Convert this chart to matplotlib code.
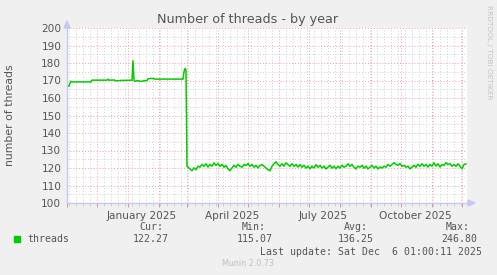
import numpy as np
import matplotlib.pyplot as plt
import matplotlib.dates as mdates
from matplotlib.patches import Rectangle, Polygon

W, H = 497, 275

# start of the 400 day window
start = np.datetime64('2024-11-01')
end = start + np.timedelta64(400, 'D')

# first months: (day offset, threads)
flat_days = [0, 2, 3, 4, 5, 24, 25, 40, 41, 42, 47, 49, 53, 65, 66, 67, 68,
             71, 73, 77, 80, 81, 85, 88, 116, 117, 118, 119, 120]
flat_vals = [167.2, 166.8, 168.5, 169.5, 169.2, 169.2, 170.2, 170.2, 170.7, 170.2,
             170.3, 169.8, 170.0, 170.2, 181.5, 170.0, 169.5, 170.0, 169.5, 169.8,
             170.0, 171.0, 171.2, 170.8, 170.8, 175.0, 177.0, 176.0, 121.0]

# after the drop, one reading every 2 days from day 121
noisy_vals = [
    120.5, 119.5, 118.5, 120.0, 119.0, 121.0, 120.5, 122.0, 121.0, 122.5,
    120.5, 122.0, 121.0, 123.0, 121.5, 122.5, 121.0, 122.0, 120.5, 121.5,
    119.5, 118.5, 120.0, 121.5, 120.5, 122.0, 121.0, 120.5, 122.0, 121.5,
    122.5, 121.0, 122.0, 120.5, 121.5, 120.0, 121.5, 122.0, 121.0, 120.0,
    119.0, 118.5, 121.0, 122.5, 123.5, 122.0, 121.0, 122.5, 121.0, 123.0,
    122.0, 121.0, 122.5, 121.0, 122.0, 120.5, 122.0, 120.5, 121.5, 120.0,
    121.0, 119.5, 121.0, 120.0, 122.0, 120.5, 121.5, 120.0, 121.0, 119.5,
    120.5, 121.5, 120.0, 121.0, 119.5, 121.0, 120.0, 121.5, 120.5, 121.0,
    122.5, 121.0, 122.0, 120.5, 119.5, 121.0, 120.5, 121.5, 120.0, 121.0,
    119.5, 120.5, 121.5, 120.0, 121.0, 119.5, 120.5, 120.0, 121.0, 120.5,
    122.0, 121.0, 122.0, 123.0, 122.0, 121.5, 122.5, 121.0, 121.5, 120.5,
    121.0, 119.5, 120.5, 121.5, 120.5, 122.0, 121.0, 122.5, 121.0, 122.0,
    120.5, 122.0, 121.0, 123.0, 121.0, 122.5, 120.5, 122.0, 121.5, 123.0,
    122.0, 122.5, 121.0, 122.0, 121.0, 122.5, 121.0, 119.5, 122.0, 122.3,
]
noisy_first_day = 121
noisy_step = 2

yticks = list(range(100, 201, 10))
month_labels = ['January 2025', 'April 2025', 'July 2025', 'October 2025']
label_dates = ['2025-01-15', '2025-04-15', '2025-07-15', '2025-10-15']

stat_names = ['Cur:', 'Min:', 'Avg:', 'Max:']
stat_vals = ['122.27', '115.07', '136.25', '246.80']

days = flat_days + [noisy_first_day + noisy_step * i for i in range(len(noisy_vals))]
vals = flat_vals + noisy_vals
dates = start + np.array(days).astype('timedelta64[D]')

fig = plt.figure(figsize=(W / 100, H / 100), dpi=100, facecolor='#f0f0f0')
ax = fig.add_axes([67 / W, 72 / H, 400 / W, 175 / H])
ax.set_facecolor('white')

ax.plot(dates.astype('datetime64[s]').astype(object), vals, color='#00cc00', lw=1.1,
        solid_joinstyle='miter')

ax.set_xlim(start.astype(object), end.astype(object))
ax.set_ylim(100, 200)

# grid
ax.xaxis.set_major_locator(mdates.MonthLocator())
ax.xaxis.set_minor_locator(mdates.WeekdayLocator(byweekday=mdates.SU))
ax.xaxis.set_major_formatter(plt.NullFormatter())
ax.set_yticks(yticks)
ax.set_yticks(list(range(105, 200, 10)), minor=True)
ax.grid(True, which='minor', color='#cfcfcf', ls=(0, (1, 2)), lw=0.7)
ax.grid(True, which='major', color='#eba0a0', ls=(0, (1, 2)), lw=0.7)
ax.set_axisbelow(True)

ax.tick_params(axis='y', which='both', length=0, labelsize=7.6, labelcolor='#555555', pad=4)
ax.tick_params(axis='x', which='major', length=3, width=0.7, color='#e88888', direction='out')
ax.tick_params(axis='x', which='minor', length=2, width=0.6, color='#c8c8c8', direction='out')

for s in ax.spines.values():
    s.set_visible(False)
axc = '#c4c8f4'
ax.plot([0, 0], [0, 1.0], transform=ax.transAxes, color=axc, lw=1, clip_on=False)
ax.plot([0, 1.005], [0, 0], transform=ax.transAxes, color=axc, lw=1, clip_on=False)
fig.patches.append(Polygon([[64 / W, 1 - 28 / H], [70 / W, 1 - 28 / H], [67 / W, 1 - 21 / H]],
                           closed=True, transform=fig.transFigure, color=axc))
fig.patches.append(Polygon([[468 / W, 1 - 200 / H], [468 / W, 1 - 206 / H], [475 / W, 1 - 203 / H]],
                           closed=True, transform=fig.transFigure, color=axc))

for lab, d in zip(month_labels, label_dates):
    ax.text(np.datetime64(d).astype(object), -0.045, lab, transform=ax.get_xaxis_transform(),
            ha='center', va='top', fontsize=7.6, color='#555555')

fig.text(248 / W, 1 - 19 / H, 'Number of threads - by year', ha='center', va='center',
         fontsize=9.2, color='#555555')
fig.text(10 / W, 1 - 115 / H, 'number of threads', rotation=90, ha='center', va='center',
         fontsize=7.8, color='#555555')
fig.text(489 / W, 1 - 5 / H, 'RRDTOOL / TOBI OETIKER', rotation=-90, ha='center', va='top',
         fontsize=5.3, color='#c4c4c4')

mono = dict(family='DejaVu Sans Mono', fontsize=7.1, color='#555555')
fig.patches.append(Rectangle((14 / W, 1 - 242 / H), 6 / W, 6 / H, transform=fig.transFigure,
                             color='#00cc00'))
fig.text(27 / W, 1 - 239.5 / H, 'threads', ha='left', va='center', **mono)
name_right = [163, 266, 368, 470]
val_right = [169, 273, 374, 477]
for n, v, nr, vr in zip(stat_names, stat_vals, name_right, val_right):
    fig.text(nr / W, 1 - 227.5 / H, n, ha='right', va='center', **mono)
    fig.text(vr / W, 1 - 239.5 / H, v, ha='right', va='center', **mono)
fig.text(482 / W, 1 - 252 / H, 'Last update: Sat Dec  6 01:00:11 2025', ha='right', va='center', **mono)
fig.text(248 / W, 1 - 264 / H, 'Munin 2.0.73', ha='center', va='center', fontsize=5.8, color='#c0c0c0')

fig.savefig('out.png', dpi=100, facecolor=fig.get_facecolor())
